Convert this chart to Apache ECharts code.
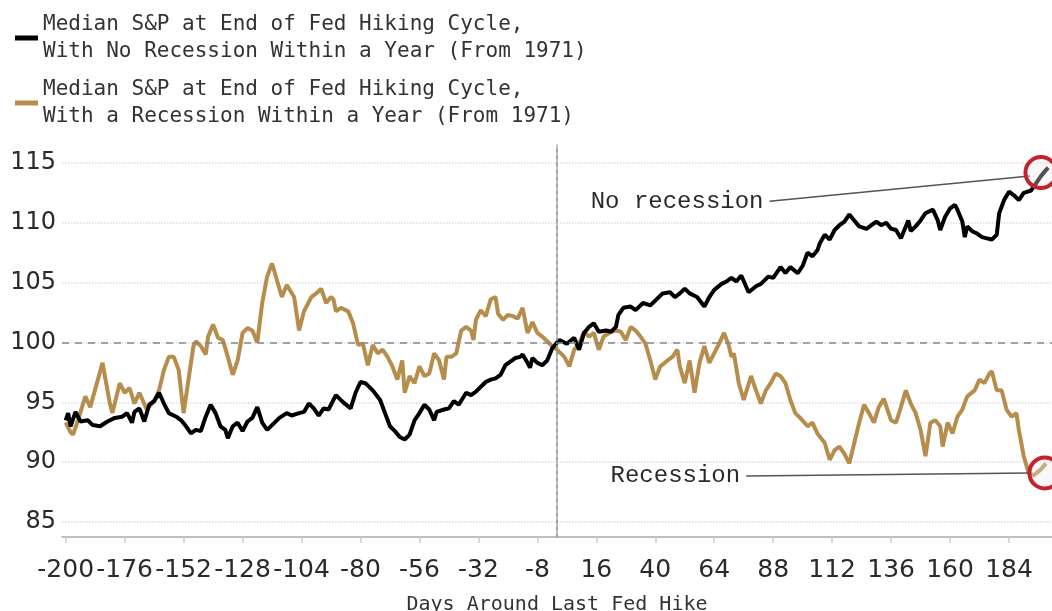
<!DOCTYPE html>
<html><head><meta charset="utf-8">
<script src="https://cdn.jsdelivr.net/npm/echarts@6/dist/echarts.min.js"></script>
<style>html,body{margin:0;padding:0;background:#fff}#c{width:1052px;height:611px}</style>
</head><body><div id="c"></div>
<script>
const noRecName = 'Median S&P at End of Fed Hiking Cycle,\nWith No Recession Within a Year (From 1971)';
const recName = 'Median S&P at End of Fed Hiking Cycle,\nWith a Recession Within a Year (From 1971)';
const xAxisName = 'Days Around Last Fed Hike';
const noRecLabel = 'No recession';
const recLabel = 'Recession';
const xTicks = [-200,-176,-152,-128,-104,-80,-56,-32,-8,16,40,64,88,112,136,160,184];
const yTicks = [85,90,95,100,105,110,115];

const noRecDays = [-200,-199,-198,-196,-194,-191,-189,-186,-183,-180,-177,-175,-173,-172,-170,-168,-166,-164,-162,-160,-158,-155,-153,-151,-149,-147,-145,-143,-141,-139,-137,-135,-134,-132,-130,-128,-126,-124,-122,-120,-118,-116,-113,-110,-108,-105,-103,-101,-99,-97,-95,-93,-90,-87,-84,-82,-80,-78,-75,-72,-70,-68,-66,-64,-62,-60,-58,-56,-54,-52,-50,-49,-46,-44,-42,-40,-37,-35,-33,-31,-29,-27,-25,-23,-21,-19,-17,-15,-14,-12,-11,-10,-8,-6,-4,-2,0,1,4,7,9,11,13,15,17,20,22,24,25,27,30,32,35,38,41,43,46,48,50,52,54,57,60,62,64,67,69,71,73,75,78,81,83,86,88,91,93,95,98,100,102,104,106,107,109,111,113,115,117,119,121,123,126,128,130,132,134,136,138,140,142,143,144,146,148,150,153,155,156,158,160,162,163,165,166,167,169,171,173,175,177,179,180,182,184,186,188,190,193,195,197,199,200];
const noRecVals = [93.5,94.1,93.0,94.2,93.4,93.5,93.1,93.0,93.4,93.7,93.8,94.1,93.3,94.2,94.5,93.4,94.8,95.1,95.8,94.9,94.1,93.8,93.5,93.0,92.4,92.7,92.6,93.8,94.8,94.1,93.0,92.7,92.0,93.0,93.3,92.6,93.4,93.7,94.6,93.3,92.7,93.1,93.7,94.1,93.9,94.1,94.2,94.9,94.5,93.9,94.5,94.4,95.6,95.0,94.5,95.8,96.7,96.6,96.0,95.2,94.1,93.0,92.6,92.1,91.9,92.3,93.5,94.1,94.8,94.4,93.5,94.2,94.4,94.5,95.1,94.8,95.8,95.6,95.9,96.3,96.7,96.9,97.0,97.3,98.1,98.4,98.7,98.8,99.0,98.3,97.9,98.7,98.3,98.1,98.5,99.5,100.0,100.2,99.9,100.4,99.4,100.8,101.3,101.6,100.9,101.0,100.9,101.3,102.3,102.9,103.0,102.7,103.3,103.1,103.7,104.1,104.2,103.8,104.1,104.5,104.1,103.8,103.0,103.8,104.4,104.9,105.1,105.4,105.1,105.6,104.2,104.7,104.9,105.5,105.4,106.3,105.8,106.3,105.8,106.4,107.5,107.2,107.7,108.3,109.0,108.6,109.4,109.8,110.1,110.7,110.2,109.7,109.5,109.8,110.1,109.8,110.0,109.5,109.4,108.7,109.7,110.2,109.3,109.7,110.2,110.8,111.1,110.2,109.4,110.5,111.2,111.5,111.1,110.1,108.8,109.7,109.3,109.1,108.8,108.7,108.6,109.0,110.8,111.9,112.6,112.3,111.9,112.5,112.7,113.3,113.9,114.4,114.6];

const recDays = [-200,-198,-197,-195,-192,-190,-185,-182,-181,-178,-176,-174,-172,-170,-167,-164,-162,-160,-158,-156,-154,-152,-150,-148,-147,-145,-143,-142,-140,-138,-136,-134,-132,-130,-128,-126,-124,-122,-120,-118,-116,-114,-112,-110,-107,-105,-103,-100,-98,-96,-94,-92,-91,-90,-88,-85,-83,-81,-79,-77,-75,-73,-71,-69,-67,-65,-63,-62,-60,-58,-56,-54,-52,-50,-48,-46,-45,-43,-41,-39,-37,-35,-34,-33,-31,-29,-27,-25,-24,-22,-20,-18,-16,-14,-12,-10,-8,-6,-4,-2,0,3,5,7,9,11,13,15,17,19,22,24,26,28,30,32,34,36,38,40,42,45,47,49,50,52,54,56,58,60,62,64,66,68,70,71,72,74,76,79,81,83,85,87,89,91,93,95,97,99,102,104,106,109,111,113,115,117,119,121,123,125,127,129,131,133,136,138,140,142,144,146,148,150,152,154,156,157,159,161,163,165,167,170,172,174,176,177,179,181,183,185,187,188,190,192,194,197,199];
const recVals = [93.3,92.5,92.3,93.5,95.5,94.6,98.3,94.9,94.1,96.6,95.8,96.2,94.9,95.8,94.4,95.1,96.0,97.7,98.8,98.8,97.7,94.1,96.9,99.7,100.1,99.7,99.0,100.5,101.5,100.4,100.2,98.8,97.3,98.5,100.8,101.2,101.0,100.0,103.3,105.5,106.6,105.2,103.8,104.8,103.8,101.0,102.6,103.8,104.1,104.5,103.3,103.8,103.6,102.6,102.9,102.6,101.6,99.8,99.9,98.1,99.8,99.1,99.4,98.8,98.0,96.9,98.5,95.8,97.2,96.6,98.0,97.2,97.4,99.1,98.5,96.9,98.8,98.8,99.1,101.0,101.3,101.0,100.2,101.9,102.7,102.2,103.6,103.8,102.4,101.9,102.3,102.2,102.0,102.9,100.8,101.7,100.8,100.5,100.1,99.7,99.4,98.8,98.0,99.4,99.9,100.9,100.5,100.8,99.4,100.5,100.9,101.0,100.9,100.2,101.3,101.0,100.5,99.9,98.5,96.9,98.0,98.5,98.8,99.4,98.0,96.6,98.5,95.8,98.3,99.7,98.3,99.1,99.9,100.8,99.7,98.8,99.1,96.6,95.2,97.2,96.0,94.9,96.0,96.6,97.4,97.2,96.6,95.2,94.1,93.7,93.0,93.3,92.4,91.6,90.2,91.0,91.3,90.7,89.9,91.6,93.3,94.8,94.1,93.3,94.6,95.3,93.5,93.3,94.6,96.0,94.9,94.1,92.7,90.5,93.3,93.5,93.0,91.3,93.3,92.4,93.8,94.4,95.5,96.0,96.9,96.6,97.4,97.6,96.0,96.0,94.4,93.8,94.1,92.7,90.5,89.1,88.9,89.4,89.9];

const noRecCallout = [[86.5, 111.8], [192.5, 113.9]];
const noRecCircle = [197, 114.2];
const recCallout = [[77, 88.85], [192.5, 89.1]];
const recCircle = [198.6, 89.1];

const pair = (d, v) => d.map((x, i) => [x, v[i]]);
const chart = echarts.init(document.getElementById('c'), null, {renderer: 'canvas'});
const GOLD = '#b68d4c';
const labelFont = 'DejaVu Sans';
const monoFont = 'DejaVu Sans Mono';
const calloutFont = 'Liberation Mono';
const circleStyle = {color: 'rgba(235,235,235,0.35)', borderColor: '#c4222c', borderWidth: 4};
const calloutLabel = {show: true, position: 'start', distance: 6, fontFamily: calloutFont, fontSize: 24, color: '#2a2a2a'};

chart.setOption({
  animation: false,
  backgroundColor: '#fff',
  legend: {
    data: [noRecName, recName],
    orient: 'vertical', left: 10, top: 6,
    icon: 'rect', itemWidth: 23, itemHeight: 5, itemGap: 11,
    textStyle: {fontFamily: monoFont, fontSize: 21, color: '#333', lineHeight: 27}
  },
  grid: {left: 62, right: 0, top: 145, bottom: 74, containLabel: false, outerBoundsMode: 'none'},
  xAxis: {
    type: 'value', min: -201.5, max: 201.5,
    name: xAxisName, nameLocation: 'middle', nameGap: 58,
    nameTextStyle: {fontFamily: monoFont, fontSize: 20, color: '#333'},
    axisLine: {show: true, lineStyle: {color: '#aaa', width: 1.5}},
    axisTick: {show: true, customValues: xTicks, length: 6, lineStyle: {color: '#ccc', width: 1.5}},
    axisLabel: {customValues: xTicks, fontFamily: labelFont, fontSize: 25, color: '#2a2a2a', margin: 21},
    splitLine: {show: false}
  },
  yAxis: {
    type: 'value', min: 83.75, max: 116.5,
    axisLine: {show: true, lineStyle: {color: '#aaa', width: 1.5}},
    axisTick: {show: false, customValues: yTicks},
    axisLabel: {customValues: yTicks, fontFamily: labelFont, fontSize: 24, color: '#2a2a2a', margin: 6, padding: [6, 0, 0, 0]},
    splitLine: {show: true, lineStyle: {color: '#ddd', type: 'dotted', width: 1.5}}
  },
  series: [
    {
      name: recName, type: 'line', data: pair(recDays, recVals),
      showSymbol: false, symbol: 'none', color: GOLD,
      lineStyle: {color: GOLD, width: 4}, z: 2,
      markLine: {
        silent: true, symbol: 'none',
        data: [
          {yAxis: 100, lineStyle: {color: '#888', type: [7, 6], width: 1.5}, label: {show: false}},
          {xAxis: 0, lineStyle: {color: '#999', type: [3, 4], width: 1.5}, label: {show: false}},
          [{coord: recCallout[0], label: Object.assign({formatter: recLabel}, calloutLabel)},
           {coord: recCallout[1]}]
        ],
        lineStyle: {color: '#555', width: 1.5, type: 'solid'}
      },
      markPoint: {silent: true, symbol: 'circle', symbolSize: 31, label: {show: false},
        itemStyle: circleStyle, data: [{coord: recCircle}]}
    },
    {
      name: noRecName, type: 'line', data: pair(noRecDays, noRecVals),
      showSymbol: false, symbol: 'none', color: '#000',
      lineStyle: {color: '#000', width: 4}, z: 3,
      markLine: {
        silent: true, symbol: 'none',
        data: [[{coord: noRecCallout[0], label: Object.assign({formatter: noRecLabel}, calloutLabel)},
                {coord: noRecCallout[1]}]],
        lineStyle: {color: '#555', width: 1.5, type: 'solid'}
      },
      markPoint: {silent: true, symbol: 'circle', symbolSize: 31, label: {show: false},
        itemStyle: circleStyle, data: [{coord: noRecCircle}]}
    }
  ]
});
</script></body></html>
